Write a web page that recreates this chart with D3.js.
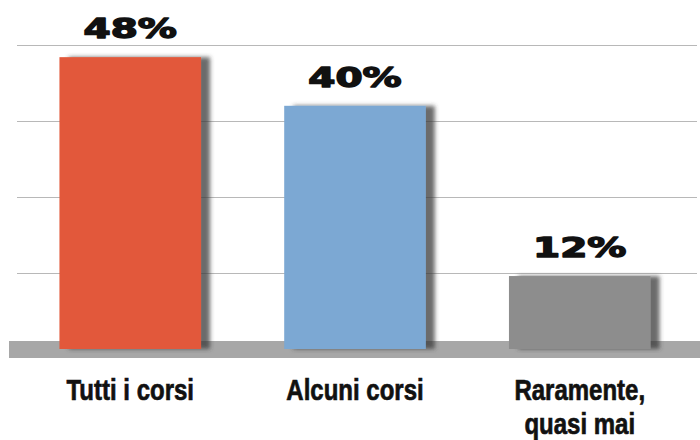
<!DOCTYPE html>
<html>
<head>
<meta charset="utf-8">
<script src="https://cdn.jsdelivr.net/npm/d3@7"></script>
<style>
  html, body { margin: 0; padding: 0; background: #fff; }
  svg { display: block; }
</style>
</head>
<body>
<div id="chart"></div>
<script>
const categories = ["Tutti i corsi", "Alcuni corsi", "Raramente,\nquasi mai"];
const values = [48, 40, 12];
const barColors = ["#e2593b", "#7ca8d3", "#8d8d8d"];
const gridValues = [12.5, 25, 37.5, 50];

const width = 700, height = 440;

const svg = d3.select("#chart").append("svg")
  .attr("width", width)
  .attr("height", height);

/* soft shadow on the right of each bar */
const defs = svg.append("defs");
const shadow = defs.append("filter")
  .attr("id", "shadow")
  .attr("x", "-10%").attr("y", "-5%")
  .attr("width", "130%").attr("height", "110%");
shadow.append("feDropShadow")
  .attr("dx", 9).attr("dy", 0)
  .attr("stdDeviation", 2)
  .attr("flood-color", "#3a3a3a")
  .attr("flood-opacity", 0.75);

const x = d3.scaleBand()
  .domain(categories)
  .range([10, 700])
  .paddingInner(0.37)
  .paddingOuter(0.22);

const y = d3.scaleLinear()
  .domain([0, 50])
  .range([349, 45]);

// gridlines
svg.append("g")
  .selectAll("line")
  .data(gridValues)
  .enter().append("line")
  .attr("x1", 17)
  .attr("x2", 697)
  .attr("y1", d => Math.round(y(d)) + 0.5)
  .attr("y2", d => Math.round(y(d)) + 0.5)
  .attr("stroke", "#b8b8b8")
  .attr("stroke-width", 1.2);

// grey floor
svg.append("rect")
  .attr("x", 9)
  .attr("y", 341)
  .attr("width", width - 9)
  .attr("height", 17)
  .attr("fill", "#a7a7a7");

// bars
svg.append("g")
  .selectAll("rect")
  .data(values)
  .enter().append("rect")
  .attr("x", (d, i) => x(categories[i]))
  .attr("y", d => y(d))
  .attr("width", x.bandwidth())
  .attr("height", d => y(0) - y(d))
  .attr("fill", (d, i) => barColors[i])
  .attr("filter", "url(#shadow)");

// value labels (wide, heavy)
svg.append("g")
  .selectAll("text")
  .data(values)
  .enter().append("text")
  .attr("transform", (d, i) => `translate(${x(categories[i]) + x.bandwidth() / 2},${y(d) - 19}) scale(1.5,1)`)
  .attr("text-anchor", "middle")
  .style("font-family", "'DejaVu Sans', sans-serif")
  .style("font-weight", "bold")
  .style("font-size", "26px")
  .style("fill", "#111")
  .style("stroke", "#111")
  .style("stroke-width", 1.4)
  .style("stroke-linejoin", "round")
  .text(d => d + "%");

// category labels
const catLabel = svg.append("g")
  .selectAll("text")
  .data(categories)
  .enter().append("text")
  .attr("text-anchor", "middle")
  .attr("transform", d => `translate(${x(d) + x.bandwidth() / 2},400) scale(0.8,1)`)
  .style("font-family", "'Liberation Sans', Arial, sans-serif")
  .style("font-weight", "bold")
  .style("font-size", "30px")
  .style("fill", "#111")
  .style("stroke", "#111")
  .style("stroke-width", 0.7);

catLabel.selectAll("tspan")
  .data(d => d.split("\n"))
  .enter().append("tspan")
  .attr("x", 0)
  .attr("dy", (d, i) => i === 0 ? 0 : 34)
  .text(d => d);
</script>
</body>
</html>
